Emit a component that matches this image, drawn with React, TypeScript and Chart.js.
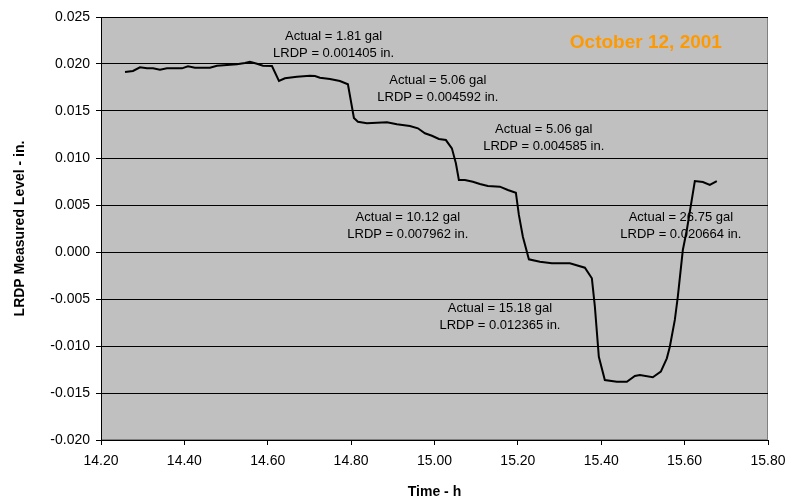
import React, { useEffect, useRef } from "react";
import { Chart, registerables } from "chart.js";

Chart.register(...registerables);

const timeH = [
  14.2576, 14.2767, 14.2935, 14.3103, 14.3247, 14.3415, 14.3583, 14.3942, 14.4086, 14.4254,
  14.4614, 14.4782, 14.5022, 14.5261, 14.5453, 14.5573, 14.5741, 14.5885, 14.6101, 14.6269,
  14.6412, 14.67, 14.7012, 14.7132, 14.7252, 14.7492, 14.7731, 14.7923, 14.8067, 14.8163,
  14.8379, 14.8619, 14.8859, 14.9098, 14.941, 14.9602, 14.977, 14.9938, 15.0106, 15.0273,
  15.0417, 15.0513, 15.0585, 15.0729, 15.0921, 15.1089, 15.1281, 15.1568, 15.176, 15.1952,
  15.2024, 15.212, 15.2264, 15.2528, 15.2815, 15.3247, 15.3607, 15.3775, 15.3847, 15.3942,
  15.4086, 15.4374, 15.4614, 15.4806, 15.4926, 15.5237, 15.5429, 15.5573, 15.5645, 15.5765,
  15.5837, 15.5957, 15.6053, 15.6245, 15.6439, 15.6604, 15.6772,
];

const levelIn = [
  0.01915, 0.01926, 0.01965, 0.01954, 0.01954, 0.01939, 0.01954, 0.01954, 0.01976, 0.01961,
  0.01961, 0.01982, 0.01989, 0.01997, 0.02011, 0.02024, 0.02003, 0.01982, 0.01979, 0.01819,
  0.01848, 0.01865, 0.01876, 0.01872, 0.01854, 0.0184, 0.01819, 0.01784, 0.01426, 0.01386,
  0.01369, 0.01376, 0.0138, 0.01359, 0.0134, 0.01316, 0.01263, 0.01237, 0.01202, 0.01191,
  0.01103, 0.00944, 0.00766, 0.00766, 0.00748, 0.00723, 0.00702, 0.00695, 0.0066, 0.00631,
  0.00394, 0.00163, -0.00078, -0.00103, -0.0012, -0.0012, -0.00167, -0.0028, -0.00582, -0.01114,
  -0.01362, -0.0138, -0.0138, -0.01319, -0.01309, -0.01333, -0.01273, -0.01131, -0.01007, -0.00723,
  -0.00476, 0.00021, 0.00234, 0.00755, 0.00745, 0.00713, 0.00755,
];

const noteActual = ["Actual = 1.81 gal", "Actual = 5.06 gal", "Actual = 5.06 gal", "Actual = 10.12 gal", "Actual = 15.18 gal", "Actual = 26.75 gal"];
const noteLrdp = ["LRDP = 0.001405 in.", "LRDP = 0.004592 in.", "LRDP = 0.004585 in.", "LRDP = 0.007962 in.", "LRDP = 0.012365 in.", "LRDP = 0.020664 in."];
const noteTime = [14.758, 15.008, 15.262, 14.936, 15.157, 15.591];
const noteLevel = [0.0229, 0.0183, 0.013, 0.00372, -0.00596, 0.00372];

const dateLabel = "October 12, 2001";
const dateTime = 15.507;
const dateLevel = 0.02223;
const xTitle = "Time - h";
const yTitle = "LRDP Measured Level - in.";

const FONT = "'Liberation Sans', Arial, sans-serif";

const plotBg = {
  id: "plotBg",
  beforeDraw(chart: any) {
    const { ctx, chartArea } = chart;
    ctx.save();
    ctx.fillStyle = "#C0C0C0";
    ctx.fillRect(chartArea.left, chartArea.top, chartArea.right - chartArea.left, chartArea.bottom - chartArea.top);
    ctx.strokeStyle = "#808080";
    ctx.lineWidth = 1;
    ctx.strokeRect(chartArea.left + 0.5, chartArea.top + 0.5, chartArea.right - chartArea.left - 1, chartArea.bottom - chartArea.top - 1);
    ctx.restore();
  },
};

const notes = {
  id: "notes",
  afterDatasetsDraw(chart: any) {
    const { ctx, scales } = chart;
    const xs = scales.x;
    const ys = scales.y;
    ctx.save();
    ctx.fillStyle = "#000";
    ctx.font = `13px ${FONT}`;
    ctx.textAlign = "center";
    ctx.textBaseline = "middle";
    for (let i = 0; i < noteActual.length; i++) {
      const px = xs.getPixelForValue(noteTime[i]);
      const py = ys.getPixelForValue(noteLevel[i]);
      ctx.fillText(noteActual[i], px, py);
      ctx.fillText(noteLrdp[i], px, py + 17);
    }
    ctx.fillStyle = "#FF9900";
    ctx.font = `bold 19px ${FONT}`;
    ctx.fillText(dateLabel, xs.getPixelForValue(dateTime), ys.getPixelForValue(dateLevel));
    ctx.restore();
  },
};

export default function App() {
  const ref = useRef<HTMLCanvasElement | null>(null);
  useEffect(() => {
    if (!ref.current) return;
    const points = timeH.map((t, i) => ({ x: t, y: levelIn[i] }));
    const chart = new Chart(ref.current, {
      type: "line",
      data: {
        datasets: [
          {
            data: points,
            borderColor: "#000",
            borderWidth: 2,
            pointRadius: 0,
            tension: 0,
            fill: false,
          },
        ],
      },
      options: {
        animation: false,
        responsive: false,
        maintainAspectRatio: false,
        layout: { padding: { left: 0, right: 31, top: 17, bottom: 0 } },
        plugins: { legend: { display: false }, tooltip: { enabled: false } },
        scales: {
          x: {
            type: "linear",
            min: 14.2,
            max: 15.8,
            afterFit: (s: any) => {
              s.height = 61;
            },
            ticks: {
              stepSize: 0.2,
              color: "#000",
              font: { family: FONT, size: 14 },
              padding: 8,
              maxRotation: 0,
              callback: (v: any) => Number(v).toFixed(2),
            },
            grid: { display: true, drawOnChartArea: false, drawTicks: true, tickLength: 5, color: "#000" },
            border: { display: true, color: "#000", width: 1 },
            title: { display: true, text: xTitle, color: "#000", font: { family: FONT, size: 14, weight: "bold" }, padding: { top: 6, bottom: 0 } },
          },
          y: {
            type: "linear",
            min: -0.02,
            max: 0.025,
            afterFit: (s: any) => {
              s.width = 101;
            },
            ticks: {
              stepSize: 0.005,
              color: "#000",
              font: { family: FONT, size: 14 },
              padding: 6,
              callback: (v: any) => (Math.abs(Number(v)) < 1e-9 ? "0.000" : Number(v).toFixed(3)),
            },
            grid: { display: true, drawOnChartArea: true, drawTicks: true, tickLength: 5, color: "#000", lineWidth: 1 },
            border: { display: true, color: "#000", width: 1 },
            title: { display: true, text: yTitle, color: "#000", font: { family: FONT, size: 14, weight: "bold" }, padding: { top: 12, bottom: 4 } },
          },
        },
      } as any,
      plugins: [plotBg, notes],
    });
    return () => chart.destroy();
  }, []);
  return (
    <div style={{ position: "fixed", left: 0, top: 0, width: 799, height: 501, background: "#fff" }}>
      <canvas ref={ref} width={799} height={501} style={{ width: 799, height: 501 }} />
    </div>
  );
}
